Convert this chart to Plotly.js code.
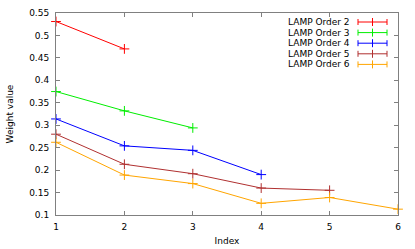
<!DOCTYPE html>
<html><head><meta charset="utf-8">
<script src="https://cdn.plot.ly/plotly-3.0.1.min.js"></script>
<style>html,body{margin:0;padding:0;background:#fff}</style>
</head><body><div id="chart" style="width:415px;height:249px"></div>
<script>
const seriesNames = ["LAMP Order 2","LAMP Order 3","LAMP Order 4","LAMP Order 5","LAMP Order 6"];
const seriesColors = ["#ff0000","#00ee00","#0000ff","#b03030","#ffa500"];
const order2 = [0.531, 0.470];
const order3 = [0.375, 0.332, 0.294];
const order4 = [0.314, 0.254, 0.244, 0.190];
const order5 = [0.280, 0.213, 0.192, 0.160, 0.155];
const order6 = [0.262, 0.189, 0.170, 0.126, 0.139, 0.113];
const seriesValues = [order2, order3, order4, order5, order6];
const xTicks = [1,2,3,4,5,6];
const yTicks = [0.1,0.15,0.2,0.25,0.3,0.35,0.4,0.45,0.5,0.55];
const yTickText = ["0.1","0.15","0.2","0.25","0.3","0.35","0.4","0.45","0.5","0.55"];

const traces = seriesValues.map((vals, i) => ({
  type: "scatter", mode: "lines+markers",
  x: vals.map((_, k) => k + 1), y: vals,
  name: seriesNames[i], showlegend: false, cliponaxis: false,
  line: {color: seriesColors[i], width: 1},
  marker: {symbol: "cross-thin-open", size: 7, line: {color: seriesColors[i], width: 1}}
}));

const font = {family: "DejaVu Sans", size: 9, color: "#000"};
const annotations = [], shapes = [];
// manual key (gnuplot style: text then sample)
const keyTextX = 352, keyTop = 22, keyStep = 10.6, sx0 = 358, sx1 = 387;
const px = v => (v - 56) / 342, py = v => 1 - (v - 13) / 202;
seriesNames.forEach((n, i) => {
  const yy = keyTop + i * keyStep;
  annotations.push({xref: "paper", yref: "paper", x: px(keyTextX), y: py(yy),
    xanchor: "right", yanchor: "middle", text: n, showarrow: false, font: font});
  const c = seriesColors[i];
  const lw = {color: c, width: 1};
  shapes.push({type: "line", xref: "paper", yref: "paper", x0: px(sx0), x1: px(sx1), y0: py(yy), y1: py(yy), line: lw});
  shapes.push({type: "line", xref: "paper", yref: "paper", x0: px(sx0), x1: px(sx0), y0: py(yy - 3), y1: py(yy + 3), line: lw});
  shapes.push({type: "line", xref: "paper", yref: "paper", x0: px(sx1), x1: px(sx1), y0: py(yy - 3), y1: py(yy + 3), line: lw});
  shapes.push({type: "line", xref: "paper", yref: "paper", x0: px((sx0 + sx1) / 2), x1: px((sx0 + sx1) / 2), y0: py(yy - 4), y1: py(yy + 4), line: lw});
});

const axisCommon = {showgrid: false, zeroline: false, showline: true, linecolor: "#808080", linewidth: 1,
  mirror: "allticks", ticks: "inside", ticklen: 4, tickcolor: "#808080", tickfont: font};
const layout = {
  width: 415, height: 249, margin: {l: 56, r: 17, t: 13, b: 34},
  paper_bgcolor: "#fff", plot_bgcolor: "#fff", font: font, showlegend: false,
  xaxis: Object.assign({}, axisCommon, {range: [1, 6], tickvals: xTicks, ticktext: xTicks.map(String),
    ticklabelstandoff: 3, title: {text: "Index", font: font, standoff: 6}}),
  yaxis: Object.assign({}, axisCommon, {range: [0.1, 0.55], tickvals: yTicks, ticktext: yTickText,
    ticklabelstandoff: 4, title: {text: "Weight value", font: font, standoff: 14}}),
  annotations: annotations, shapes: shapes
};
Plotly.newPlot("chart", traces, layout, {staticPlot: true, displayModeBar: false});
</script></body></html>
